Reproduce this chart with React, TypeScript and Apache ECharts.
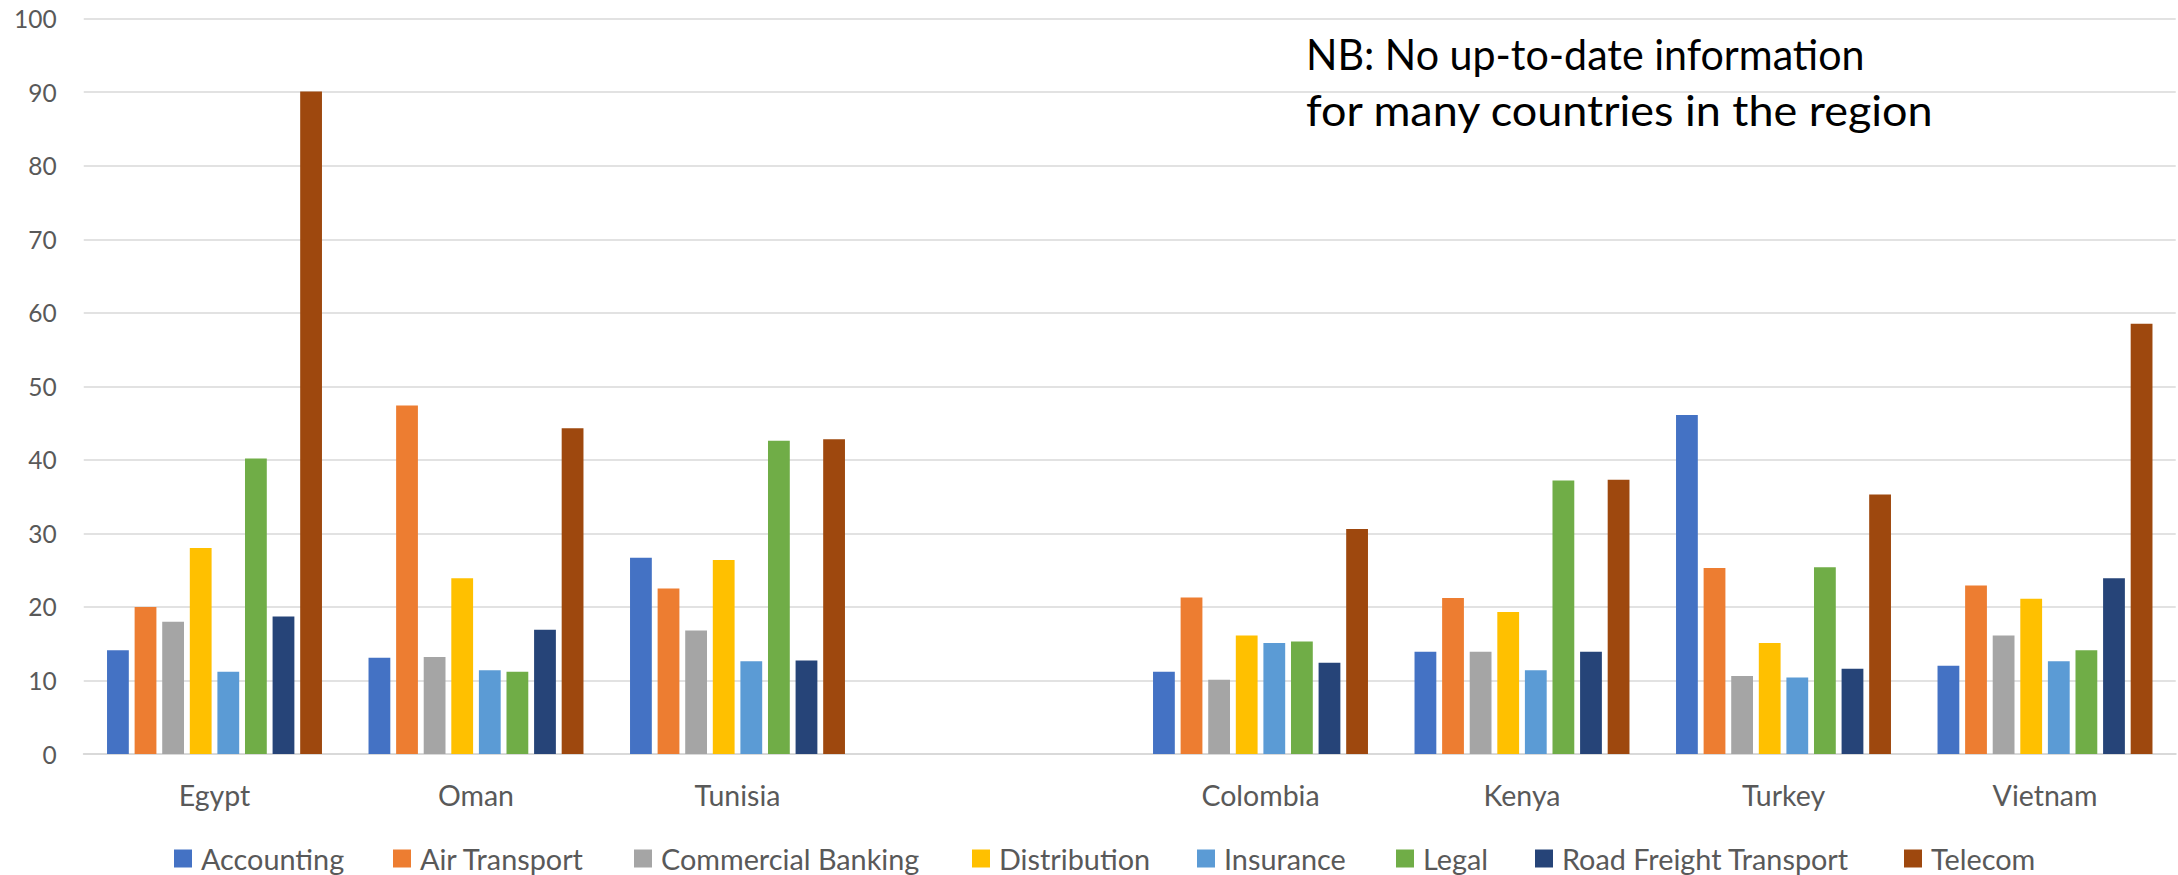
import React, { useEffect, useRef } from "react";
import * as echarts from "echarts";

const categories = ["Egypt", "Oman", "Tunisia", "", "Colombia", "Kenya", "Turkey", "Vietnam"];
const seriesNames = [
  "Accounting",
  "Air Transport",
  "Commercial Banking",
  "Distribution",
  "Insurance",
  "Legal",
  "Road Freight Transport",
  "Telecom",
];
const accounting = [14.1, 13.1, 26.7, null, 11.2, 13.9, 46.1, 12.0];
const airTransport = [20.0, 47.4, 22.5, null, 21.3, 21.2, 25.3, 22.9];
const commercialBanking = [18.0, 13.2, 16.8, null, 10.1, 13.9, 10.6, 16.1];
const distribution = [28.0, 23.9, 26.4, null, 16.1, 19.3, 15.1, 21.1];
const insurance = [11.2, 11.4, 12.6, null, 15.1, 11.4, 10.4, 12.6];
const legal = [40.2, 11.2, 42.6, null, 15.3, 37.2, 25.4, 14.1];
const roadFreight = [18.7, 16.9, 12.7, null, 12.4, 13.9, 11.6, 23.9];
const telecom = [90.1, 44.3, 42.8, null, 30.6, 37.3, 35.3, 58.5];
const yTicks = { min: 0, max: 100, interval: 10 };
const noteLines = ["NB: No up-to-date information", "for many countries in the region"];

const seriesData = [accounting, airTransport, commercialBanking, distribution, insurance, legal, roadFreight, telecom];
const colors = ["#4472C4", "#ED7D31", "#A5A5A5", "#FFC000", "#5B9BD5", "#70AD47", "#264478", "#9E480E"];
const legendLeft = [174, 393, 634, 972, 1197, 1396, 1535, 1904];

const FONT = "Lato";

export default function App() {
  const ref = useRef<HTMLDivElement>(null);
  useEffect(() => {
    const chart = echarts.init(ref.current!, null, { renderer: "svg" });
    chart.setOption({
      animation: false,
      color: colors,
      grid: { left: 83.75, right: 2.25, top: 18.7, bottom: 121, containLabel: false },
      xAxis: {
        type: "category",
        data: categories,
        axisTick: { show: false },
        axisLine: { lineStyle: { color: "#d9d9d9", width: 2 } },
        axisLabel: { color: "#595959", fontFamily: FONT, fontSize: 28.5, margin: 26, interval: 0 },
      },
      yAxis: {
        type: "value",
        min: yTicks.min,
        max: yTicks.max,
        interval: yTicks.interval,
        axisLine: { show: false },
        axisTick: { show: false },
        splitLine: { lineStyle: { color: "#d9d9d9", width: 1.5 } },
        axisLabel: { color: "#595959", fontFamily: FONT, fontSize: 24.5, margin: 27 },
      },
      legend: seriesNames.map((name, i) => ({
        data: [name],
        left: legendLeft[i],
        top: 844,
        padding: 0,
        icon: "rect",
        itemWidth: 18,
        itemHeight: 18,
        selectedMode: false,
        textStyle: { color: "#595959", fontFamily: FONT, fontSize: 28.8, padding: [0, 0, 0, 4] },
      })),
      graphic: [
        {
          type: "text",
          x: 1306,
          y: 54,
          scaleX: 0.98,
          style: { text: noteLines[0], fill: "#000", font: `42px ${FONT}`, verticalAlign: "middle" },
        },
        {
          type: "text",
          x: 1306,
          y: 110,
          scaleX: 1.07,
          style: { text: noteLines[1], fill: "#000", font: `42px ${FONT}`, verticalAlign: "middle" },
        },
      ],
      series: seriesNames.map((name, i) => ({
        name,
        type: "bar",
        data: seriesData[i],
        barCategoryGap: "17.8%",
        barGap: "26.6%",
        itemStyle: { color: colors[i] },
      })),
    });
    return () => chart.dispose();
  }, []);
  return (
    <div
      ref={ref}
      style={{ position: "fixed", left: 0, top: 0, width: 2178, height: 875, background: "#fff" }}
    />
  );
}
